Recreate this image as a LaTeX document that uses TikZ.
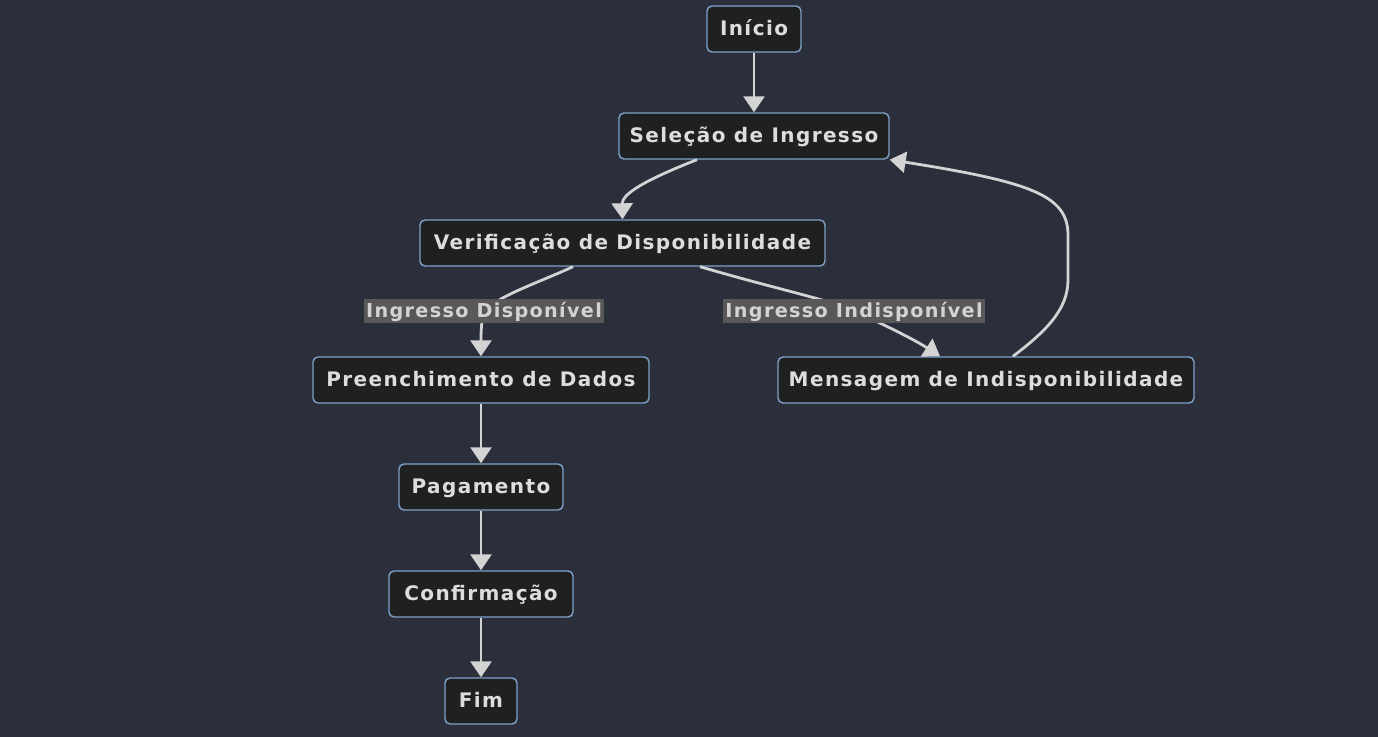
\documentclass[tikz,border=0pt]{standalone}
\usepackage{fontspec}
\setmainfont{DejaVu Sans}[LetterSpace=7]
\usetikzlibrary{arrows.meta}
\definecolor{bgcol}{HTML}{2A2F3B}
\definecolor{boxfill}{HTML}{1F2020}
\definecolor{boxline}{HTML}{7FA2C9}
\definecolor{txtcol}{HTML}{DDDDDD}
\definecolor{linecol}{HTML}{D3D3D3}
\definecolor{lblfill}{HTML}{585858}
\tikzstyle{stepnode}=[rectangle,rounded corners=2.5pt,draw=boxline,line width=0.7pt,fill=boxfill,text=txtcol,minimum height=23pt,inner sep=0pt,text height=8.5pt,text depth=1.5pt,font=\fontsize{10}{12}\selectfont\bfseries]
\tikzstyle{edge} = [draw=linecol,line width=1.4pt,-{Triangle[width=10.5pt,length=8pt]}]
\tikzstyle{weight} = [fill=lblfill,text=linecol,inner sep=1pt,text height=8.5pt,text depth=1.5pt,font=\fontsize{9.6}{12}\selectfont\bfseries]

\begin{document}
\begin{tikzpicture}[x=0.5pt,y=-0.5pt]

    \fill[bgcol] (0,0) rectangle (1378,737);
    \useasboundingbox (0,0) rectangle (1378,737);

     \foreach \x/\y/\w/\name/\txt in {754/29/47/inicio/Início, 754/136/135/selecao/Seleção de Ingresso,
        622.5/243/202.5/verif/Verificação de Disponibilidade, 481/380/168/preench/Preenchimento de Dados,
        986/380/208/msg/Mensagem de Indisponibilidade, 481/487/82/pag/Pagamento,
        481/594/92/conf/Confirmação, 481/701/36/fim/Fim}
        \node[stepnode, minimum width=\w pt] (\name) at (\x, \y) {\txt};

    \foreach \source/ \dest in {inicio/selecao, preench/pag, pag/conf, conf/fim}
        \path[edge] (\source) -- (\dest);

    \path[edge] ([xshift=-28.5pt]selecao.south) .. controls (640,182) and (622,195) .. (verif.north);

    \path[edge] ([xshift=-24.75pt]verif.south) .. controls (540,282) and (500,295) .. (484,311)
        node[weight] {Ingresso Disponível} .. controls (481,322) and (481,335) .. (preench.north);

    \path[edge] ([xshift=38.75pt]verif.south) .. controls (780,290) and (830,300) .. (854,311)
        node[weight] {Ingresso Indisponível} .. controls (885,325) and (915,340) .. ([xshift=-23pt]msg.north);

    \path[edge] ([xshift=13.5pt]msg.north) .. controls (1045,332) and (1068,310) .. (1068,280) -- (1068,235)
        .. controls (1068,195) and (1030,182) .. (selecao.south east);

   \end{tikzpicture}
\end{document}
